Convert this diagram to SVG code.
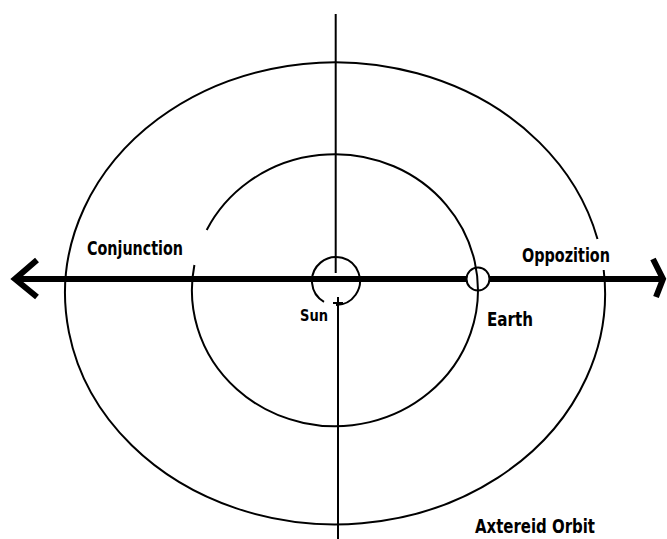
<svg xmlns="http://www.w3.org/2000/svg" width="667" height="539" viewBox="0 0 667 539">
<style>
.orbit{fill:none;stroke:#000;stroke-width:2}
.axis{fill:none;stroke:#000;stroke-width:2}
.main{fill:none;stroke:#000;stroke-width:6}
.lbl{font-family:"DejaVu Sans Condensed","Liberation Sans",sans-serif;font-weight:bold;fill:#000}
</style>
<rect width="667" height="539" fill="#fff"/>
<g id="outer-orbit"><path class="orbit" d="M 603.7 270 A 270 231 0 1 1 597.5 239"/></g>
<g id="inner-orbit"><path class="orbit" d="M 194.4 265 A 143 136 0 1 0 206.7 230"/></g>
<g id="connectors">
<line class="axis" x1="335.7" y1="14" x2="335.7" y2="273"/>
<line class="axis" x1="338" y1="297" x2="338" y2="539"/>
<line class="axis" x1="333" y1="303" x2="343" y2="303"/>
<line class="main" x1="14" y1="279" x2="467" y2="279"/>
<line class="main" x1="489" y1="279" x2="662" y2="279"/>
<polyline class="main" points="37,260 15,279 37,297"/>
<polyline class="main" points="653,259 663,279 656,297"/>
</g>
<g id="sun">
<path fill="none" stroke="#000" stroke-width="2" d="M 324 301.8 A 24 24 0 1 1 336 305"/>
<text class="lbl" x="300" y="321" font-size="15" textLength="28" lengthAdjust="spacingAndGlyphs">Sun</text>
</g>
<g id="earth">
<circle cx="478" cy="279" r="11.5" fill="none" stroke="#000" stroke-width="2"/>
<text class="lbl" x="487" y="326" font-size="19" textLength="46" lengthAdjust="spacingAndGlyphs">Earth</text>
</g>
<g id="conjunction"><text class="lbl" x="87" y="255" font-size="19" textLength="96" lengthAdjust="spacingAndGlyphs">Conjunction</text></g>
<g id="opposition"><text class="lbl" x="522" y="262" font-size="19" textLength="88" lengthAdjust="spacingAndGlyphs">Oppozition</text></g>
<g id="asteroid-orbit"><text class="lbl" x="475" y="533" font-size="19" textLength="120" lengthAdjust="spacingAndGlyphs">Axtereid Orbit</text></g>
</svg>
